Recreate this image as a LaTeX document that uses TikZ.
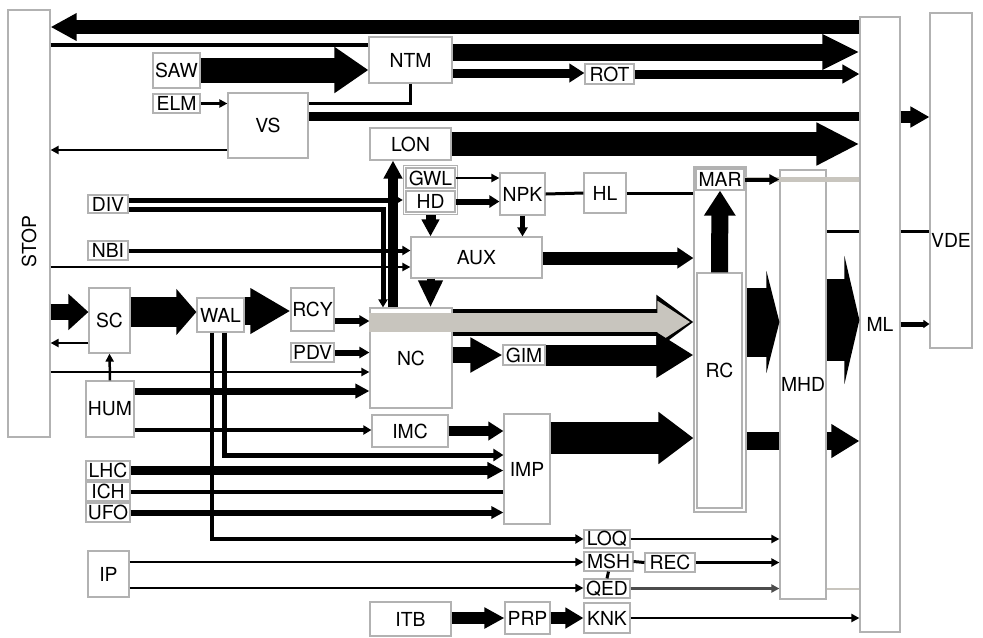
\documentclass[tikz,border=0pt]{standalone}
\usepackage{fontspec}
\setmainfont{TeX Gyre Heros}
\usetikzlibrary{arrows.meta,fit}
\newdimen\pxu \pxu=0.02cm
\definecolor{grisclaro}{RGB}{200,197,190}

\begin{document}
\begin{tikzpicture}[
    x=0.02cm, y=-0.02cm,
    font=\fontsize{11}{13}\selectfont,
    caja/.style={draw=gray!60, line width=1.2*\pxu, fill=white, inner sep=0pt},
    tam/.style 2 args={minimum width=#1*\pxu, minimum height=#2*\pxu},
    linea/.style={line width=#1*\pxu},
    flecha/.style n args={3}{line width=#1*\pxu, -{Triangle[length=#2*0.569pt, width=#3*0.569pt]}},
    fino/.style={flecha={2.5}{8}{8}}
]
    \useasboundingbox (0,0) rectangle (983,637);

    % Bloques grandes de los lados
    \node[caja, tam={42}{427}, label={[yshift=-0.36cm]center:\rotatebox{90}{STOP}}] (stop) at (29,223.5) {};
    \node[caja, tam={40}{615}] (ml) at (880,324.5) {ML};
    \node[caja, tam={42}{335}, label={[yshift=-1.2cm]center:VDE}] (vde) at (951,180.5) {};
    \node[caja, tam={46}{429}] (mhd) at (803,384.5) {MHD};
    \node[caja, tam={52}{345}] (marco) at (720,339.5) {};
    \node[caja, tam={48}{21}] (mar) at (720,179.5) {MAR};
    \node[caja, tam={45}{235}, label={[yshift=0.4cm]center:RC}] (rc) at (719.5,390.5) {};

    % Bloques de arriba
    \node[caja, tam={83}{46}] (ntm) at (410.5,60) {NTM};
    \node[caja, tam={47}{35}] (saw) at (176.5,70.5) {SAW};
    \node[caja, tam={47}{19}] (elm) at (176.5,103.5) {ELM};
    \node[caja, tam={80}{65}] (vs) at (268,125.5) {VS};
    \node[caja, tam={49}{20}] (rot) at (609.5,74) {ROT};
    \node[caja, tam={81}{32}] (lon) at (410.5,144) {LON};
    \node[caja, tam={49}{20}] (gwl) at (430.5,178) {GWL};
    \node[caja, tam={49}{21}] (hd) at (430.5,201.5) {HD};
    \node[caja, fill=none, fit=(gwl)(hd), inner sep=2*\pxu] (ghd) {};
    \node[caja, tam={45}{42}] (npk) at (522.5,194) {NPK};
    \node[caja, tam={42}{40}] (hl) at (605,193) {HL};
    \node[caja, tam={131}{41}] (aux) at (476.5,257.5) {AUX};

    % Bloques del centro
    \node[caja, tam={40}{18}] (div) at (108,204) {DIV};
    \node[caja, tam={40}{19}] (nbi) at (108,250.5) {NBI};
    \node[caja, tam={41}{65}] (sc) at (109.5,320.5) {SC};
    \node[caja, tam={47}{34}] (wal) at (220.5,315) {WAL};
    \node[caja, tam={43}{43}] (rcy) at (312.5,309.5) {RCY};
    \node[caja, tam={43}{19}] (pdv) at (312.5,352.5) {PDV};
    \node[caja, tam={82}{100}] (nc) at (411,358) {NC};
    \node[caja, tam={42}{20}] (gim) at (524,355) {GIM};
    \node[caja, tam={48}{56}] (hum) at (110,409) {HUM};
    \node[caja, tam={76}{32}] (imc) at (410,431) {IMC};
    \node[caja, tam={46}{110}] (imp) at (527,469) {IMP};
    \node[caja, tam={44}{19}] (lhc) at (108,470.5) {LHC};
    \node[caja, tam={44}{19}] (ich) at (108,491.5) {ICH};
    \node[caja, tam={44}{19}] (ufo) at (108,512.5) {UFO};

    % Bloques de abajo
    \node[caja, tam={41}{46}] (ip) at (108.5,574) {IP};
    \node[caja, tam={46}{18}] (loq) at (607,539) {LOQ};
    \node[caja, tam={49}{19}] (msh) at (608.5,561.5) {MSH};
    \node[caja, tam={50}{19}] (rec) at (670,562.5) {REC};
    \node[caja, tam={46}{19}] (qed) at (607,588.5) {QED};
    \node[caja, tam={46}{30}] (knk) at (607,618) {KNK};
    \node[caja, tam={45}{32}] (prp) at (527.5,618) {PRP};
    \node[caja, tam={81}{34}] (itb) at (410.5,619) {ITB};

    % Flechas de arriba
    \draw[flecha={14}{26}{26}] (ml.west |- 0,27) -- (stop.east |- 0,27);
    \draw[linea=4] (stop.east |- 0,45) -- (ntm.west |- 0,45);
    \draw[flecha={25}{34}{44}] (saw.east |- 0,70) -- (ntm.west |- 0,70);
    \draw[flecha={17}{37}{33}] (ntm.east |- 0,52) -- (ml.west |- 0,52);
    \draw[flecha={9}{15}{18}] (ntm.east |- 0,73) -- (rot.west |- 0,73);
    \draw[flecha={9}{17}{18}] (rot.east |- 0,74) -- (ml.west |- 0,74);
    \draw[fino] (elm.east) -- (vs.west |- elm.east);
    \draw[linea=3] (ntm.south) |- (vs.east |- 0,103);
    \draw[fino] (vs.west |- 0,150) -- (stop.east |- 0,150);
    \draw[linea=9] (vs.east |- 0,116) -- (ml.west |- 0,116);
    \draw[flecha={12}{19}{20}] (ml.east |- 0,117) -- (vde.west |- 0,117);
    \draw[flecha={24}{43}{40}] (lon.east) -- (ml.west |- lon.east);

    % GWL, HD, NPK, AUX y MAR
    \draw[fino] (gwl.east) -- (npk.west |- gwl.east);
    \draw[flecha={6}{10}{12}] (hd.east) -- (npk.west |- hd.east);
    \draw[flecha={5}{9}{10}] (npk.south) -- (npk.south |- aux.north);
    \draw[linea=3] (npk.east) -- (hl.west);
    \draw[linea=3] (hl.east) -- (marco.west |- hl.east);
    \draw[draw=grisclaro, linea=5] (mar.east) -- (ml.west |- mar.east);
    \draw[flecha={4}{10}{10}] (mar.east) -- (mhd.west |- mar.east);
    \draw[flecha={17}{25}{30}] (rc.north) -- (mar.south);
    \draw[flecha={13}{16}{20}] (aux.east |- 0,258) -- (marco.west |- 0,258);
    \draw[flecha={10}{17}{17}] (hd.south |- ghd.south) -- (hd.south |- aux.north);
    \draw[flecha={8}{27}{23}] (hd.south |- aux.south) -- (hd.south |- nc.north);

    % DIV y NBI
    \draw[flecha={5}{8}{9}] (div.east |- 0,200) -- (ghd.west |- 0,200);
    \draw[flecha={5}{8}{9}] (div.east |- 0,209) -| ([xshift=-28*\pxu]nc.north);
    \draw[flecha={10}{18}{18}] ([xshift=-18*\pxu]nc.north) -- ([xshift=-18*\pxu]nc.north |- lon.south);
    \draw[flecha={4}{8}{9}] (nbi.east) -- (aux.west |- nbi.east);
    \draw[fino] (stop.east |- 0,267) -- (aux.west |- 0,267);

    % SC, WAL, RCY y la banda gris
    \draw[flecha={16}{20}{35}] (stop.east |- 0,312) -- (sc.west |- 0,312);
    \draw[fino] (sc.west |- 0,343) -- (stop.east |- 0,343);
    \draw[flecha={30}{20}{45}] (sc.east |- 0,312) -- (wal.west |- 0,312);
    \draw[flecha={28}{40}{43}] (wal.east |- 0,311) -- (rcy.west |- 0,311);
    \draw[flecha={27}{37}{52}] (nc.east |- 0,322) -- (marco.west |- 0,322);
    \draw[color=grisclaro, flecha={19}{33}{40}, shorten >=3*\pxu] (nc.west |- 0,322) -- (marco.west |- 0,322);
    \draw[flecha={6}{10}{11}] (rcy.east |- 0,321) -- (nc.west |- 0,321);
    \draw[flecha={6}{10}{11}] (pdv.east) -- (nc.west |- pdv.east);
    \draw[flecha={16}{32}{33}] (nc.east |- gim.west) -- (gim.west);
    \draw[flecha={21}{37}{43}] (gim.east) -- (marco.west |- gim.east);

    % HUM e IMC
    \draw[fino] (stop.east |- 0,372) -- (nc.west |- 0,372);
    \draw[flecha={7}{14}{14}] (hum.east |- 0,391) -- (nc.west |- 0,391);
    \draw[flecha={4}{8}{9}] (hum.east |- 0,430) -- (imc.west |- 0,430);
    \draw[fino] (hum.north) -- (sc.south);
    \draw[flecha={10}{15}{18}] (imc.east) -- (imp.west |- imc.east);

    % Lineas que bajan de WAL
    \draw[flecha={4}{8}{9}] ([xshift=-8.5*\pxu]wal.south) |- (loq.west);
    \draw[flecha={5}{10}{12}] ([xshift=3.5*\pxu]wal.south) |- (imp.west |- 0,455);

    % LHC, ICH, UFO e IMP
    \draw[flecha={9}{16}{16}] (lhc.east) -- (imp.west |- lhc.east);
    \draw[linea=4] (ich.east) -- (imp.west |- ich.east);
    \draw[flecha={6}{12}{12}] (ufo.east) -- (imp.west |- ufo.east);
    \draw[flecha={32}{35}{50}] (imp.east |- 0,438) -- (marco.west |- 0,438);

    % RC, MHD, ML y VDE
    \draw[flecha={69}{13}{102}] (marco.east |- 0,322) -- (mhd.west |- 0,322);
    \draw[flecha={82}{15}{128}] (mhd.east |- 0,320) -- (ml.west |- 0,320);
    \draw[linea=18] (marco.east |- 0,441) -- (mhd.west |- 0,441);
    \draw[flecha={18}{28}{32}] (mhd.east |- 0,441) -- (ml.west |- 0,441);
    \draw[linea=3] (mhd.east |- 0,231) -- (ml.west |- 0,231);
    \draw[linea=3] (ml.east |- 0,231) -- (vde.west |- 0,231);
    \draw[flecha={5}{6}{8}] (ml.east |- 0,324) -- (vde.west |- 0,324);

    % Bloques de abajo
    \draw[fino] (loq.east) -- (mhd.west |- loq.east);
    \draw[linea=3] (msh.east) -- (rec.west);
    \draw[fino] (rec.east) -- (mhd.west |- rec.east);
    \draw[linea=3] (msh.south) -- (qed.north);
    \draw[fino, color=gray!60!black] (qed.east) -- (mhd.west |- qed.east);
    \draw[draw=grisclaro, linea=2] (mhd.east |- qed.east) -- (ml.west |- qed.east);
    \draw[fino] (knk.east) -- (ml.west |- knk.east);
    \draw[flecha={12}{20}{20}] (itb.east |- 0,618) -- (prp.west |- 0,618);
    \draw[flecha={12}{18}{20}] (prp.east) -- (knk.west |- prp.east);
    \draw[fino] (ip.east |- 0,562) -- (msh.west |- 0,562);
    \draw[fino] (ip.east |- 0,588) -- (qed.west |- 0,588);
\end{tikzpicture}
\end{document}
